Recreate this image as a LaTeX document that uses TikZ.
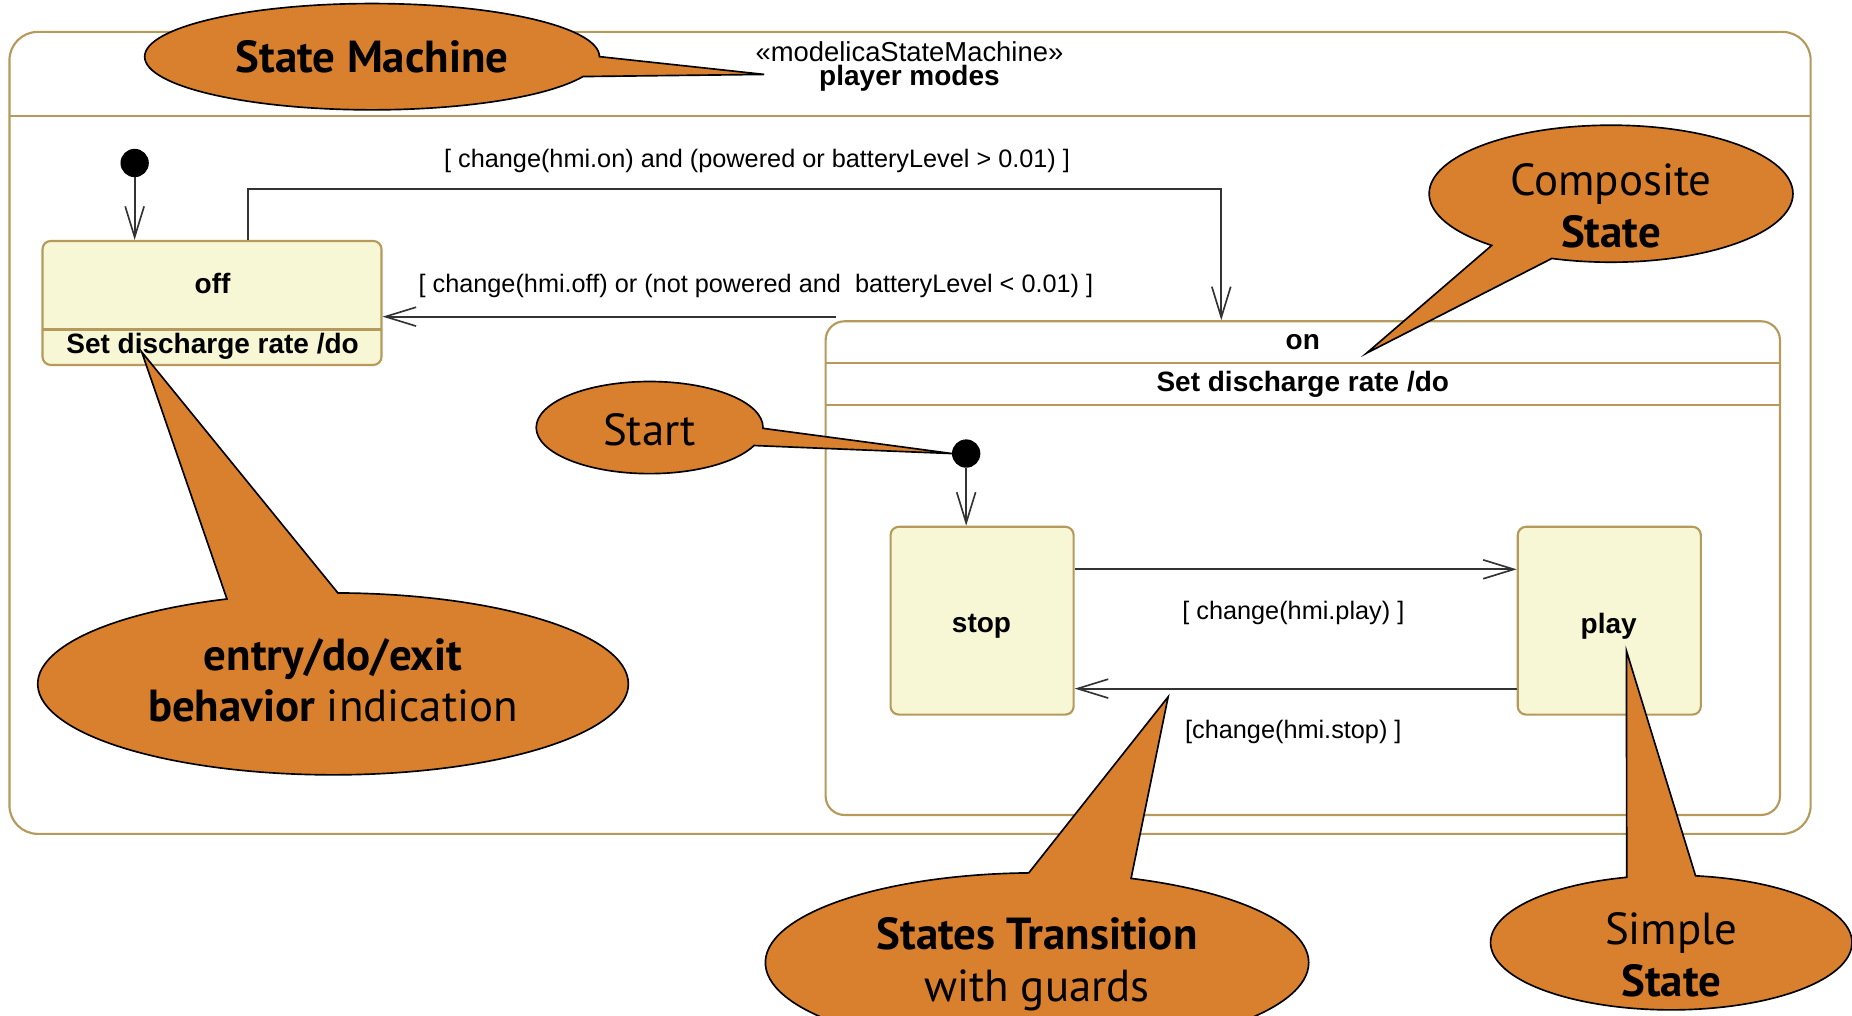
\documentclass[tikz,border=0pt]{standalone}
\usepackage{fontspec}
\setmainfont{Liberation Sans}
\newfontfamily\callfont{PT Sans}
\usetikzlibrary{arrows.meta,shapes.callouts,shapes.geometric}

\definecolor{frameline}{HTML}{B59A5C}
\definecolor{statefill}{HTML}{F7F7D5}
\definecolor{calloutfill}{HTML}{D9802E}
\definecolor{transline}{HTML}{333333}

\tikzset{
  smframe/.style={draw=frameline, line width=1.8pt},
  simplestate/.style={draw=frameline, fill=statefill, line width=1.8pt, rounded corners=7pt, inner sep=0pt},
  compstate/.style={draw=frameline, line width=1.8pt, rounded corners=16pt, inner sep=0pt},
  statename/.style={font=\fontsize{23.7}{26}\selectfont\bfseries, inner sep=0pt},
  guard/.style={font=\fontsize{21.4}{25}\selectfont, inner sep=0pt},
  initdot/.style={circle, fill=black, minimum size=24pt, inner sep=0pt},
  trans/.style={draw=transline, line width=1.6pt, -{Straight Barb[length=26pt,width=16pt,line width=1.4pt]}},
  callnote/.style={ellipse callout, draw=black, line width=1.4pt, fill=calloutfill, callout pointer arc=22, inner sep=0pt},
  notetext/.style={align=center, inner sep=0pt, font=\callfont\fontsize{38}{44}\selectfont}
}

\begin{document}
\begin{tikzpicture}[x=1pt,y=-1pt]
  \useasboundingbox (0,0) rectangle (1568,860);
  \clip (0,0) rectangle (1568,860);
  \fill[white] (0,0) rectangle (1568,860);

  \draw[smframe, rounded corners=24pt] (8,27) rectangle (1533,706);
  \draw[smframe] (8,98) -- (1533,98);
  \node[align=center, inner sep=0pt, font=\fontsize{23.2}{20}\selectfont] (smtitle) at (770,56.5) {«modelicaStateMachine»\\\fontsize{23.7}{20}\selectfont\bfseries player modes};

  \node[simplestate, minimum width=287pt, minimum height=105pt] (off) at (179.5,256.5) {};
  \draw[smframe] (36,279) -- (323,279);
  \node[statename] (offname) at (180,240) {off};
  \node[statename] (offdo) at (180,293) {Set discharge rate /do};

  \node[compstate, minimum width=808pt, minimum height=418pt] (on) at (1103,481) {};
  \draw[smframe] (699,307) -- (1507,307);
  \draw[smframe] (699,343) -- (1507,343);
  \node[statename] (onname) at (1103,290) {on};
  \node[statename] (ondo) at (1103,325) {Set discharge rate /do};

  \node[simplestate, minimum width=155pt, minimum height=159pt] (stop) at (831.5,525.5) {};
  \node[simplestate, minimum width=155pt, minimum height=159pt] (play) at (1362.5,525.5) {};
  \node[statename] (stopname) at (831,530) {stop};
  \node[statename] (playname) at (1362,530) {play};

  \node[initdot] (init1) at (114,138) {};
  \node[initdot] (init2) at (818,384) {};

  \draw[trans] (init1) -- (init1 |- off.north);
  \draw[trans] ([xshift=175pt]off.north west) -- ++(0,-43) -| ([xshift=-69pt]on.north);
  \coordinate (onexit) at ([xshift=10pt,yshift=3pt]on.north west);
  \draw[trans] (onexit) -- (onexit -| off.east);
  \draw[trans] (init2) -- (init2 |- stop.north);
  \draw[trans] ([yshift=43.5pt]stop.east) -- ([yshift=43.5pt]play.west);
  \draw[trans] ([yshift=-57.5pt]play.west) -- ([yshift=-57.5pt]stop.east);

  \node[guard] (guardon) at (641,136) {[ change(hmi.on) and (powered or batteryLevel > 0.01) ]};
  \node[guard] (guardoff) at (640,242) {[ change(hmi.off) or (not powered and~ batteryLevel < 0.01) ]};
  \node[guard] (guardplay) at (1095,519) {[ change(hmi.play) ]};
  \node[guard] (guardstop) at (1095,620) {[change(hmi.stop) ]};

  \node[callnote, minimum width=385pt, minimum height=90pt, callout absolute pointer={(647,63)}] (smnote) at (315,48) {};
  \node[notetext] (smtext) at (315,48) {\bfseries State Machine};
  \node[callnote, minimum width=308pt, minimum height=116pt, callout absolute pointer={(1157,299)}] (compnote) at (1364,164) {};
  \node[notetext] (comptext) at (1364,174) {Composite\\\bfseries State};
  \node[callnote, minimum width=192pt, minimum height=78pt, callout absolute pointer={(806,384)}] (startnote) at (550,362) {};
  \node[notetext] (starttext) at (550,364) {Start};
  \node[callnote, minimum width=500pt, minimum height=154pt, callout absolute pointer={(120,298)}] (entrynote) at (282,579) {};
  \node[notetext] (entrytext) at (282,576) {\textbf{entry/do/exit}\\\textbf{behavior} indication};
  \node[callnote, minimum width=460pt, minimum height=152pt, callout absolute pointer={(989,590)}] (transnote) at (878,815) {};
  \node[notetext] (transtext) at (878,816) {\textbf{States Transition}\\with guards};
  \node[callnote, minimum width=306pt, minimum height=114pt, callout absolute pointer={(1377,551)}] (simplenote) at (1415,798) {};
  \node[notetext] (simpletext) at (1415,808) {Simple\\\textbf{State}};
\end{tikzpicture}
\end{document}
